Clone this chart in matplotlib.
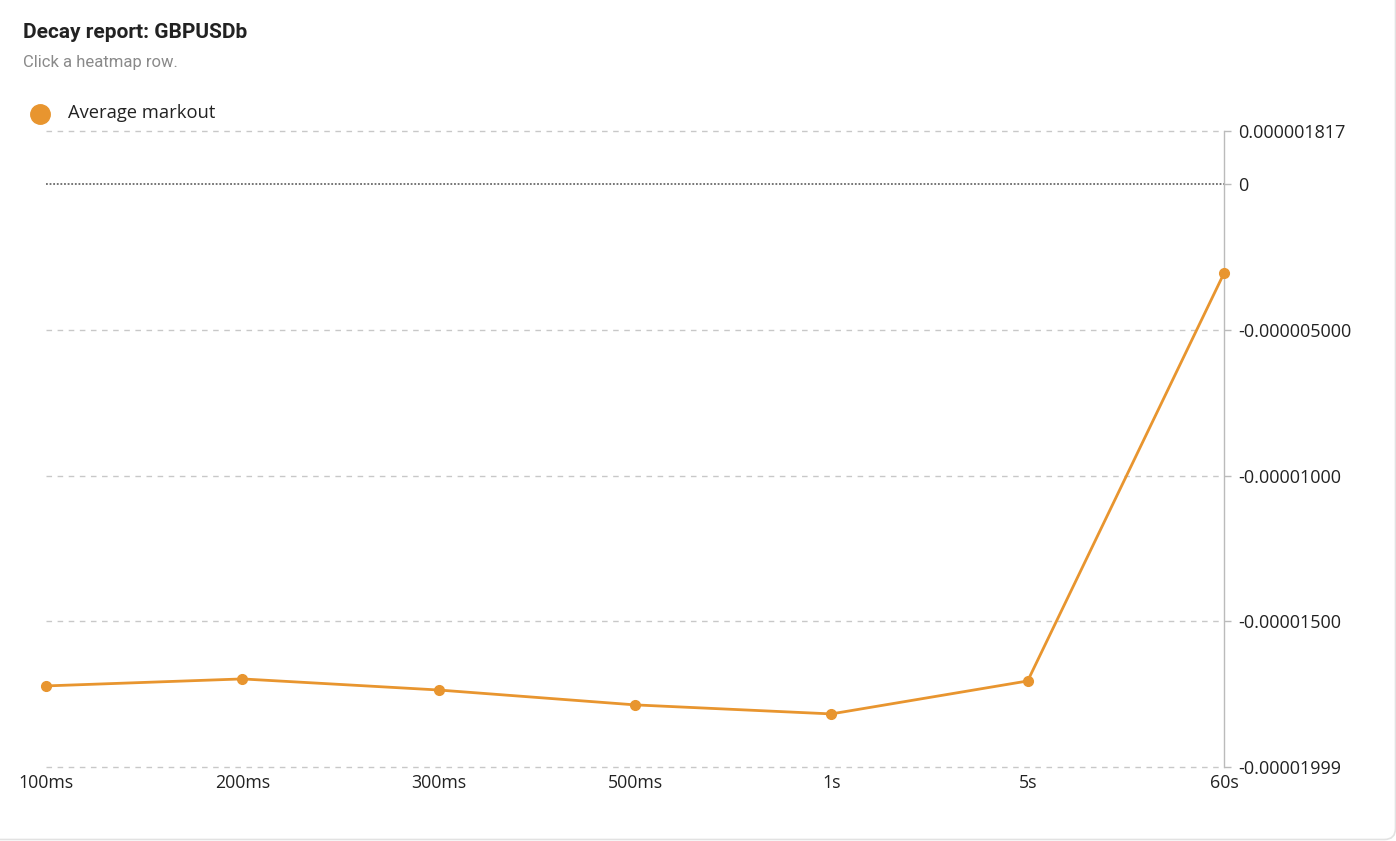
import matplotlib
matplotlib.use("Agg")
import matplotlib.pyplot as plt
from matplotlib.patches import FancyBboxPatch
from matplotlib.lines import Line2D

categories = ["100ms", "200ms", "300ms", "500ms", "1s", "5s", "60s"]
avg_markout = [-17.21e-6, -16.97e-6, -17.35e-6, -17.86e-6, -18.17e-6, -17.04e-6, -3.06e-6]
y_ticks = [1.817e-6, 0.0, -5e-6, -1e-5, -1.5e-5, -1.999e-5]
y_tick_labels = ["0.000001817", "0", "-0.000005000", "-0.00001000", "-0.00001500", "-0.00001999"]

W, H = 1396, 841
fig = plt.figure(figsize=(W / 100, H / 100), dpi=100)
fig.patch.set_facecolor("white")

# card border
card = FancyBboxPatch((-20 / W, 1.5 / H), (W + 19.5) / W, 1.2, boxstyle="round,pad=0,rounding_size=0.008",
                      transform=fig.transFigure, facecolor="none", edgecolor="#e2e2e2", linewidth=1.2,
                      mutation_aspect=W / H, zorder=0)
fig.patches.append(card)

x0, x1 = 46, 1224
ytop, ybot = 131, 767
ax = fig.add_axes([x0 / W, 1 - ybot / H, (x1 - x0) / W, (ybot - ytop) / H])
ax.set_facecolor("none")
ax.set_zorder(2)

xs = list(range(len(categories)))
color = "#E8952F"
ax.plot(xs, avg_markout, color=color, linewidth=2.0, marker="o", markersize=7, zorder=3, clip_on=False)

ax.set_xlim(0, len(categories) - 1)
ax.set_ylim(y_ticks[-1], y_ticks[0])

for v in y_ticks:
    if v == 0:
        ax.axhline(v, color="#6a6a6a", linewidth=1.3, linestyle=(0, (1, 1)), zorder=2, clip_on=False)
    else:
        ax.axhline(v, color="#c8c8c8", linewidth=1.0, linestyle=(0, (4, 4)), zorder=1, clip_on=False)

for s in ["top", "left", "bottom"]:
    ax.spines[s].set_visible(False)
ax.spines["right"].set_color("#bbbbbb")
ax.spines["right"].set_linewidth(1.0)

ax.yaxis.tick_right()
ax.set_yticks(y_ticks)
ax.set_yticklabels(y_tick_labels)
ax.tick_params(axis="y", length=5, width=1, color="#bbbbbb", pad=5, labelsize=13, labelcolor="#222222")
ax.set_xticks(xs)
ax.set_xticklabels(categories)
ax.tick_params(axis="x", length=0, pad=5, labelsize=12.8, labelcolor="#222222")
for lab in ax.get_xticklabels() + ax.get_yticklabels():
    lab.set_family(["Open Sans", "DejaVu Sans"])

fig.text(23 / W, 1 - 32 / H, "Decay report: GBPUSDb", fontsize=15, fontweight="bold",
         family="Roboto", color="#222222", va="center", ha="left")
fig.text(23 / W, 1 - 62 / H, "Click a heatmap row.", fontsize=12, family="Roboto",
         color="#8a8a8a", va="center", ha="left")

fig.add_artist(Line2D([40 / W], [1 - 114 / H], marker="o", markersize=14, color=color,
                      linestyle="none", transform=fig.transFigure))
fig.text(68 / W, 1 - 113 / H, "Average markout", fontsize=13.2, family=["Open Sans", "DejaVu Sans"],
         color="#222222", va="center", ha="left")

fig.savefig("out.png", dpi=100, facecolor="white")
